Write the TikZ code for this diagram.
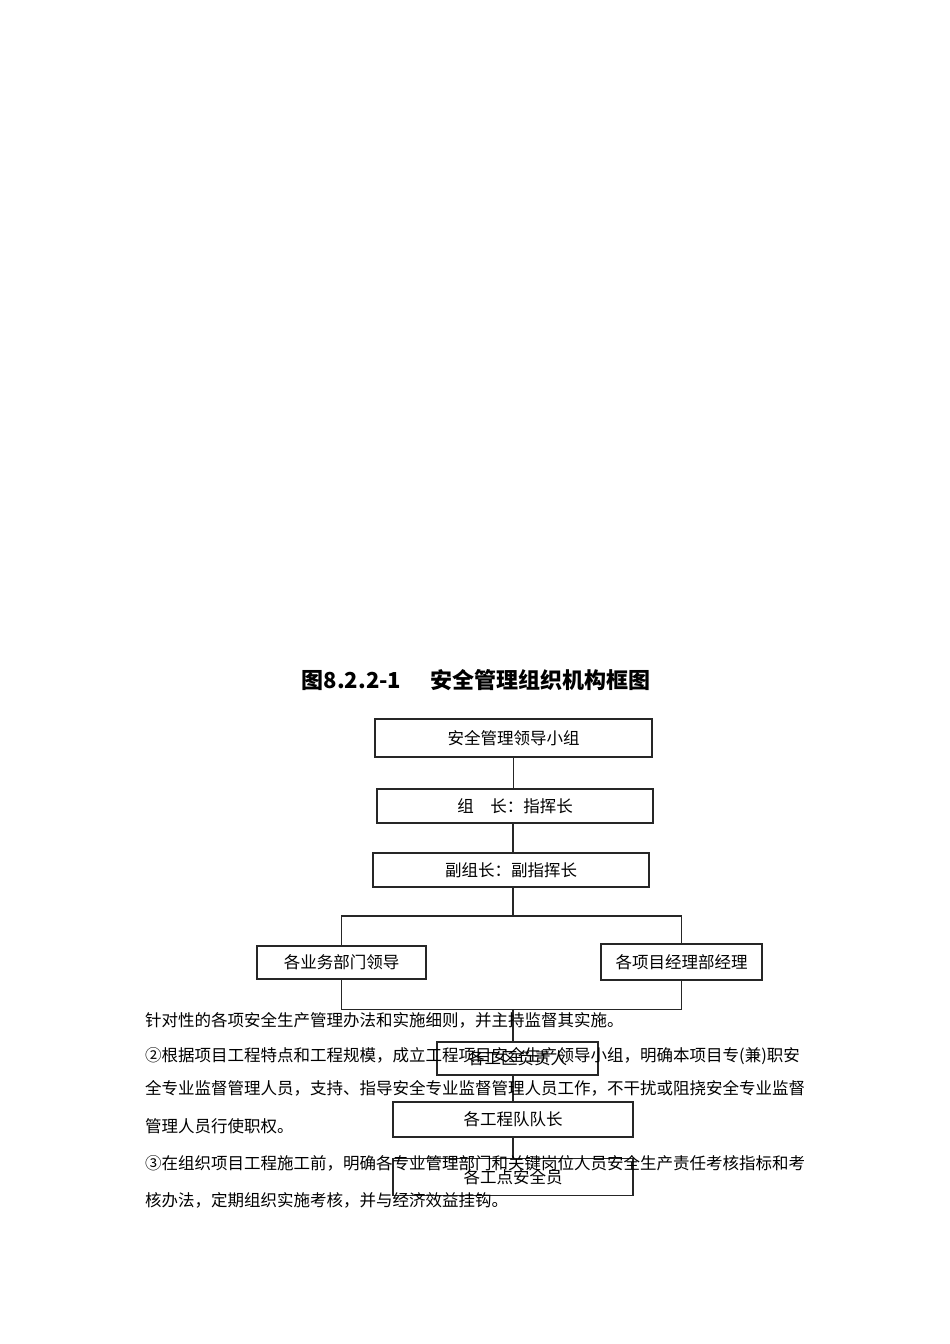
\documentclass[tikz,border=0pt]{standalone}
\usepackage{fontspec}
\newfontfamily\cjk{Noto Sans CJK SC}
\usetikzlibrary{positioning}

\tikzset{
  orgbox/.style={draw=black!85, line width=1.1pt, inner sep=0pt,
    font=\cjk\fontsize{16.5}{16.5}\selectfont},
  link/.style={draw=black!85, line width=1.1pt},
  bodyline/.style={anchor=base west, inner sep=0pt,
    font=\cjk\fontsize{16.5}{20}\selectfont}
}

\begin{document}
\begin{tikzpicture}[x=1pt,y=-1pt]
\useasboundingbox (0,0) rectangle (950,1344);

% title
\node[font=\cjk\bfseries\fontsize{22}{22}\selectfont] (title) at (476,680.5)
  {图8.2.2-1\hspace{29pt}安全管理组织机构框图};

% the boxes
\node[orgbox, minimum width=277, minimum height=38] (lead) at (513.5,738) {安全管理领导小组};
\node[orgbox, minimum width=276, minimum height=34] (chief) at (515,806) {组　长：指挥长};
\node[orgbox, minimum width=276, minimum height=34] (deputy) at (511,870) {副组长：副指挥长};
\node[orgbox, minimum width=169, minimum height=33] (dept) at (341.5,962.5) {各业务部门领导};
\node[orgbox, minimum width=161, minimum height=36] (proj) at (681.5,962) {各项目经理部经理};
\node[orgbox, minimum width=161, minimum height=33] (area) at (517.5,1058.5) {各工区负责人};
\node[orgbox, minimum width=240, minimum height=35] (team) at (513,1119.5) {各工程队队长};
\node[orgbox, minimum width=240, minimum height=37] (post) at (513,1177) {各工点安全员};

% the lines
\coordinate (split) at (513,916);
\coordinate (merge) at (513,1009.5);
\draw[link] (lead.south) -- (lead.south |- chief.north);
\draw[link] (chief.south -| split) -- (split |- deputy.north);
\draw[link] (deputy.south -| split) -- (split);
\draw[link] (dept.north) |- (split) -| (proj.north);
\draw[link] (dept.south) |- (merge) -| (proj.south);
\draw[link] (merge) -- (merge |- area.north);
\draw[link] (area.south -| team.north) -- (team.north);
\draw[link] (team.south) -- (post.north);

% body text
\node[bodyline] (txta) at (145,1026) {针对性的各项安全生产管理办法和实施细则，并主持监督其实施。};
\node[bodyline] (txtb) at (145,1061) {②根据项目工程特点和工程规模，成立工程项目安全生产领导小组，明确本项目专(兼)职安};
\node[bodyline] (txtc) at (145,1094) {全专业监督管理人员，支持、指导安全专业监督管理人员工作，不干扰或阻挠安全专业监督};
\node[bodyline] (txtd) at (145,1132) {管理人员行使职权。};
\node[bodyline] (txte) at (145,1169) {③在组织项目工程施工前，明确各专业管理部门和关键岗位人员安全生产责任考核指标和考};
\node[bodyline] (txtf) at (145,1206) {核办法，定期组织实施考核，并与经济效益挂钩。};

\end{tikzpicture}
\end{document}
